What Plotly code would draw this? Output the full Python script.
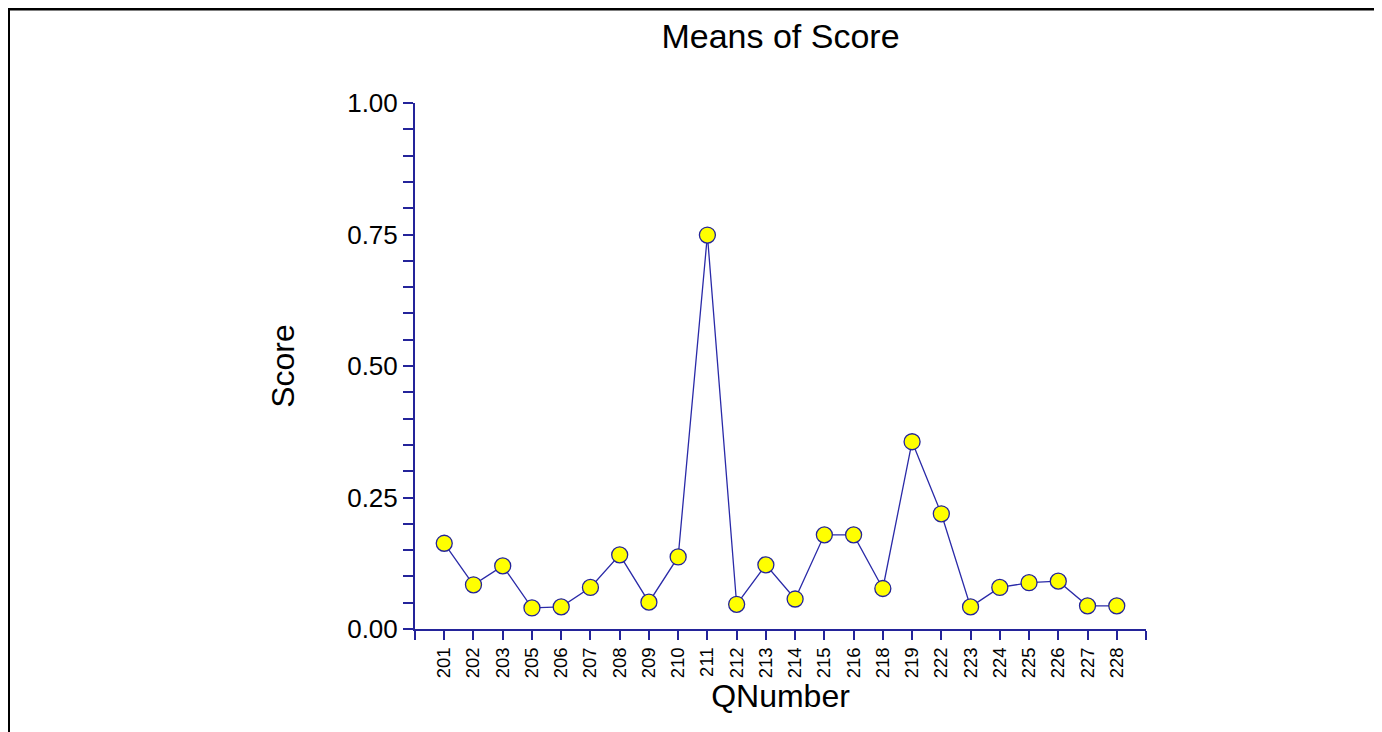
import plotly.graph_objects as go

qnumbers = ["201", "202", "203", "205", "206", "207", "208", "209", "210", "211", "212", "213",
            "214", "215", "216", "218", "219", "222", "223", "224", "225", "226", "227", "228"]
scores = [0.163, 0.084, 0.120, 0.040, 0.042, 0.079, 0.141, 0.051, 0.137, 0.749, 0.047, 0.122,
          0.057, 0.179, 0.179, 0.077, 0.356, 0.219, 0.042, 0.079, 0.088, 0.091, 0.044, 0.044]
y_ticks = [0.0, 0.25, 0.5, 0.75, 1.0]
y_tick_labels = ["0.00", "0.25", "0.50", "0.75", "1.00"]

AXIS = "#24249a"
LINE = "#2a2aa8"
FONT = "Arial, Liberation Sans, sans-serif"

# page has an 8px body margin; figure coordinates are page coordinates minus 8
W, H = 1374, 724
L, T = 407, 95
R = W - 1138
B = H - 621

idx = list(range(len(qnumbers)))

fig = go.Figure()
fig.add_trace(go.Scatter(
    x=idx, y=scores, mode="lines+markers",
    line=dict(color=LINE, width=1.3),
    marker=dict(size=16, color="#ffff00", line=dict(color=AXIS, width=1.3)),
    cliponaxis=False, hoverinfo="y",
))

tickvals = [-1] + idx + [len(qnumbers)]
ticktext = [""] + qnumbers + [""]

pw, ph = W - L - R, H - T - B
def px_x(p):
    return (p - L) / pw
def px_y(p):
    return (H - B - p) / ph

fig.update_layout(
    width=W, height=H,
    margin=dict(l=L, r=R, t=T, b=B),
    paper_bgcolor="white", plot_bgcolor="white",
    showlegend=False,
    font=dict(family=FONT, color="black"),
    title=dict(text="Means of Score", x=0.5, xref="paper", y=1 - 28 / H, yref="container",
               xanchor="center", yanchor="middle", font=dict(size=34, family=FONT, color="black")),
    xaxis=dict(
        range=[-1, len(qnumbers)], tickvals=tickvals, ticktext=ticktext,
        showline=True, linecolor=AXIS, linewidth=2, showgrid=False, zeroline=False,
        ticks="outside", ticklen=9, tickwidth=1.5, tickcolor=AXIS, tickangle=-90,
        tickfont=dict(size=18.5, family=FONT, color="black"),
        title=dict(text="QNumber", font=dict(size=32, family=FONT, color="black"), standoff=6),
    ),
    yaxis=dict(
        range=[0, 1], tickvals=y_ticks, ticktext=y_tick_labels,
        showline=True, linecolor=AXIS, linewidth=2, showgrid=False, zeroline=False,
        ticks="outside", ticklen=10, tickwidth=1.5, tickcolor=AXIS,
        tickfont=dict(size=26, family=FONT, color="black"),
        minor=dict(dtick=0.05, tick0=0, ticks="outside", ticklen=10, tickwidth=1.5, tickcolor=AXIS, showgrid=False),
        title=dict(text="Score", font=dict(size=32, family=FONT, color="black"), standoff=43),
    ),
    shapes=[dict(type="rect", xref="paper", yref="paper",
                 x0=px_x(0.5), x1=px_x(1368.5), y0=px_y(760), y1=px_y(1),
                 line=dict(color="black", width=3), layer="above")],
)

fig.write_html("out.html")
